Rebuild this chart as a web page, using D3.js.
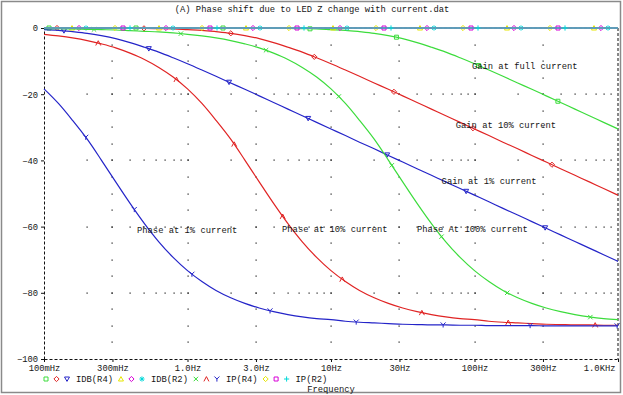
<!DOCTYPE html>
<html>
<head>
<meta charset="utf-8">
<script src="https://cdn.jsdelivr.net/npm/d3@7"></script>
<style>
body{margin:0;background:#fff;}
svg text{font-family:"Liberation Mono","Courier New",monospace;font-size:8.8px;fill:#151515;}
</style>
</head>
<body>
<svg id="chart" width="623" height="395"></svg>
<script>
// AC sweep frequencies (Hz)
var freqs = [0.1,0.126,0.158,0.2,0.251,0.316,0.398,0.501,0.631,0.794,
	1,1.26,1.58,2,2.51,3.16,3.98,5.01,6.31,7.94,
	10,12.6,15.8,20,25.1,31.6,39.8,50.1,63.1,79.4,
	100,126,158,200,251,316,398,501,631,794,1000];

// IDB(R4) - gain in dB, one run per LED current
var gainFull = [0,0,0,0,0,0,0,0,0,0,
	0,0,0,0,0,0,-0.1,-0.1,-0.2,-0.3,
	-0.5,-0.7,-1.1,-1.6,-2.3,-3.2,-4.4,-5.8,-7.3,-9.0,
	-10.8,-12.7,-14.6,-16.6,-18.5,-20.5,-22.5,-24.5,-26.5,-28.5,-30.5];
var gain10 = [0,0,0,0,0,0,-0.1,-0.1,-0.2,-0.3,
	-0.5,-0.7,-1.1,-1.6,-2.3,-3.2,-4.4,-5.8,-7.3,-9.0,
	-10.8,-12.7,-14.6,-16.6,-18.5,-20.5,-22.5,-24.5,-26.5,-28.5,
	-30.5,-32.5,-34.5,-36.5,-38.5,-40.5,-42.5,-44.5,-46.5,-48.5,-50.5];
var gain1 = [-0.5,-0.7,-1.1,-1.6,-2.3,-3.2,-4.4,-5.8,-7.3,-9.0,
	-10.8,-12.7,-14.6,-16.6,-18.5,-20.5,-22.5,-24.5,-26.5,-28.5,
	-30.5,-32.5,-34.5,-36.5,-38.5,-40.5,-42.5,-44.5,-46.5,-48.5,
	-50.5,-52.5,-54.5,-56.5,-58.5,-60.5,-62.5,-64.5,-66.5,-68.5,-70.5];

// IP(R4) - phase in degrees
var phaseFull = [-0.2,-0.2,-0.3,-0.4,-0.5,-0.6,-0.8,-1.0,-1.2,-1.5,
	-1.9,-2.4,-3.0,-3.8,-4.8,-6.0,-7.6,-9.5,-11.9,-14.8,
	-18.4,-22.8,-27.9,-33.6,-39.9,-46.5,-53.0,-59.1,-64.6,-69.3,
	-73.3,-76.6,-79.3,-81.5,-83.2,-84.6,-85.7,-86.6,-87.3,-87.8,-88.1];
var phase10 = [-1.9,-2.4,-3.0,-3.8,-4.8,-6.0,-7.6,-9.5,-11.9,-14.8,
	-18.4,-22.8,-27.9,-33.6,-39.9,-46.5,-53.0,-59.1,-64.6,-69.3,
	-73.3,-76.6,-79.3,-81.5,-83.2,-84.6,-85.7,-86.6,-87.3,-87.8,
	-88.1,-88.6,-88.9,-89.1,-89.3,-89.5,-89.6,-89.7,-89.7,-89.8,-89.8];
var phase1 = [-18.4,-22.8,-27.9,-33.6,-39.9,-46.5,-53.0,-59.1,-64.6,-69.3,
	-73.3,-76.6,-79.3,-81.5,-83.2,-84.6,-85.7,-86.6,-87.3,-87.8,
	-88.1,-88.6,-88.9,-89.1,-89.3,-89.5,-89.6,-89.7,-89.7,-89.8,
	-89.8,-89.9,-89.9,-89.9,-89.9,-90.0,-90.0,-90.0,-90.0,-90.0,-90.0];

// R2 traces sit flat on 0
var flatR2 = [0,0,0,0,0,0,0,0,0,0,0,0,0,0,0,0,0,0,0,0,0,
	0,0,0,0,0,0,0,0,0,0,0,0,0,0,0,0,0,0,0,0];

var xTickVals = [0.1,0.3,1,3,10,30,100,300,1000];
var xTickLabels = ["100mHz","300mHz","1.0Hz","3.0Hz","10Hz","30Hz","100Hz","300Hz","1.0KHz"];
var yTickVals = [0,-20,-40,-60,-80,-100];

var legendGroups = ["IDB(R4)","IDB(R2)","IP(R4)","IP(R2)"];

// text annotations (frequency, value)
var notes = [
	{text:"Gain at full current", f:96, v:-12.4},
	{text:"Gain at 10% current", f:74, v:-30.2},
	{text:"Gain at 1% current", f:59, v:-47.1},
	{text:"Phase at 1% current", f:0.445, v:-61.8},
	{text:"Phase at 10% current", f:4.56, v:-61.6},
	{text:"Phase At 100% current", f:39.7, v:-61.6}
];

var GREEN="#3cdc3c", RED="#e02424", BLUE="#2424c8", YELLOW="#e6e600", MAGENTA="#d800d8", CYAN="#00d8d8";

var traces = [
	{group:0, color:GREEN, sym:"square", off:5, data:gainFull},
	{group:0, color:RED, sym:"diamond", off:13, data:gain10},
	{group:0, color:BLUE, sym:"tridown", off:20, data:gain1},
	{group:1, color:YELLOW, sym:"triup", off:28, data:flatR2},
	{group:1, color:MAGENTA, sym:"diamond", off:35, data:flatR2},
	{group:1, color:CYAN, sym:"star", off:42, data:flatR2},
	{group:2, color:GREEN, sym:"cross", off:50, data:phaseFull},
	{group:2, color:RED, sym:"caret", off:55, data:phase10},
	{group:2, color:BLUE, sym:"ychar", off:64, data:phase1},
	{group:3, color:YELLOW, sym:"diamond", off:71, data:flatR2},
	{group:3, color:MAGENTA, sym:"square", off:79, data:flatR2},
	{group:3, color:CYAN, sym:"plus", off:86, data:flatR2}
];

function symbolPath(t){
	if(t=="square") return "M-2,-2h4v4h-4z";
	if(t=="diamond") return "M0,-2.6L2.6,0L0,2.6L-2.6,0z";
	if(t=="tridown") return "M-2.5,-2L2.5,-2L0,2.4z";
	if(t=="triup") return "M-2.5,2L2.5,2L0,-2.4z";
	if(t=="plus") return "M-2.6,0H2.6M0,-2.6V2.6";
	if(t=="cross") return "M-2.2,-2.2L2.2,2.2M-2.2,2.2L2.2,-2.2";
	if(t=="caret") return "M-2.5,2.4L0,-2.4L2.5,2.4";
	if(t=="ychar") return "M-2.5,-2.5L0,0L2.5,-2.5M0,0V2.6";
	return "M-2.6,0H2.6M0,-2.6V2.6M-1.8,-1.8L1.8,1.8M-1.8,1.8L1.8,-1.8";
}

var svg = d3.select("#chart");
var x = d3.scaleLog().domain([0.1,1000]).range([44,618]);
var y = d3.scaleLinear().domain([-100,0]).range([359,28]);

// window frame
svg.append("rect").attr("x",1.5).attr("y",1.5).attr("width",619).attr("height",391)
	.attr("fill","none").attr("stroke","#8a8a8a").attr("stroke-width",1.5);

svg.append("text").attr("x",312).attr("y",12).attr("text-anchor","middle")
	.text("(A) Phase shift due to LED Z change with current.dat");

// dotted grid
var grid = svg.append("g").attr("fill","#1a1a1a");
var minorX = x.ticks().filter(function(d){ return d>0.1 && d<1000; });
[-20,-40,-60,-80].forEach(function(v){
	minorX.forEach(function(f){
		grid.append("rect").attr("x",Math.round(x(f))-0.5).attr("y",Math.round(y(v))-0.5).attr("width",1.2).attr("height",1.2);
	});
});
var gridY = y.ticks(20).filter(function(d){ return d<0 && d>-100; });
xTickVals.slice(1,-1).forEach(function(f){
	gridY.forEach(function(v){
		grid.append("rect").attr("x",Math.round(x(f))-0.5).attr("y",Math.round(y(v))-0.5).attr("width",1.2).attr("height",1.2);
	});
});

// axes
var xAxis = svg.append("g").attr("transform","translate(0,359)")
	.call(d3.axisBottom(x).tickValues(xTickVals).tickFormat(function(d,i){ return xTickLabels[i]; }).tickSize(3).tickSizeOuter(0));
var yAxis = svg.append("g").attr("transform","translate(44,0)")
	.call(d3.axisLeft(y).tickValues(yTickVals).tickSize(3).tickSizeOuter(0));
[xAxis,yAxis].forEach(function(a){
	a.select(".domain").attr("stroke","#111").attr("stroke-dasharray","3,2");
	a.selectAll("text").attr("font-family",null).attr("font-size",null).attr("fill","#151515");
	a.selectAll(".tick line").attr("stroke","#111");
	a.attr("font-family",null).attr("font-size",null);
});
// keep last x label inside the window
xAxis.selectAll(".tick text").each(function(){
	var b = this.getBBox();
	var tx = x(d3.select(this.parentNode).datum());
	if(tx + b.x + b.width > 615) d3.select(this).attr("x", 615 - tx - b.width/2);
});
svg.append("line").attr("x1",618).attr("x2",618).attr("y1",28).attr("y2",359)
	.attr("stroke","#111").attr("stroke-dasharray","3,2");
svg.append("line").attr("x1",44).attr("x2",618).attr("y1",28).attr("y2",28)
	.attr("stroke","#111").attr("stroke-dasharray","3,2");

// traces
var line = d3.line()
	.x(function(d,i){ return x(freqs[i]); })
	.y(function(d){ return y(d); })
	.curve(d3.curveMonotoneX);

var plot = svg.append("g");
traces.forEach(function(t){
	var p = plot.append("path").attr("d",line(t.data)).attr("fill","none")
		.attr("stroke",t.color).attr("stroke-width",1.2);
	// markers evenly spaced along the trace
	var node = p.node();
	var L = node.getTotalLength();
	for(var s=t.off; s<L; s+=87){
		var pt = node.getPointAtLength(s);
		plot.append("path").attr("d",symbolPath(t.sym))
			.attr("transform","translate("+pt.x+","+pt.y+")")
			.attr("fill","none").attr("stroke",t.color).attr("stroke-width",1);
	}
});

// annotations
notes.forEach(function(n){
	svg.append("text").attr("x",x(n.f)).attr("y",y(n.v)).text(n.text);
});

// legend
var lx = 46;
legendGroups.forEach(function(name,g){
	traces.filter(function(t){ return t.group==g; }).forEach(function(t){
		svg.append("path").attr("d",symbolPath(t.sym))
			.attr("transform","translate("+lx+",379)")
			.attr("fill","none").attr("stroke",t.color).attr("stroke-width",1);
		lx += 10.5;
	});
	var tx = svg.append("text").attr("x",lx-1.5).attr("y",382).text(name);
	lx += tx.node().getComputedTextLength() + 6.5;
});

svg.append("text").attr("x",331).attr("y",392).attr("text-anchor","middle").text("Frequency");
</script>
</body>
</html>
